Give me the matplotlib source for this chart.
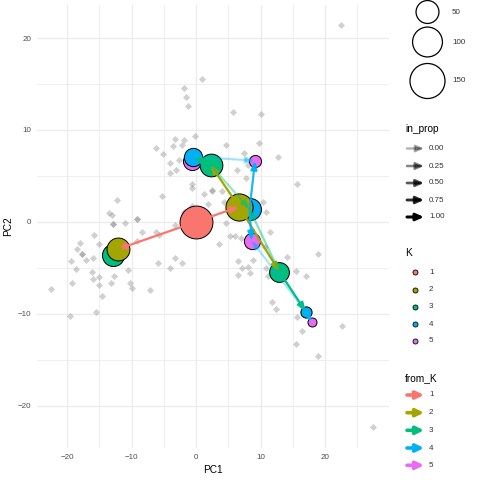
import matplotlib
matplotlib.use("Agg")
import matplotlib.pyplot as plt
from matplotlib.patches import FancyArrowPatch
import numpy as np

plt.rcParams['font.family'] = ['Liberation Sans', 'DejaVu Sans']

# ---------------- data ----------------
pts_x = [22.5, 1.0, -1.8, -1.5, -1.2, 5.7, 10.0, 15.6, 27.5, 15.5, 18.9,
         -6.2, -5.1, -3.6, -3.3, -1.8, -2.1, -0.1, 4.6, 7.4, 9.7, 12.7,
         -4.1, -3.1, -4.0, -2.7, 6.4, 8.1, 7.8, -5.2, -0.7, -0.7, 1.3, 2.4, 2.5,
         4.1, 4.3, 1.9, -0.7, -1.8, 10.4, 10.9, 4.7, 5.2, 6.1, 7.0, 3.5, 10.7,
         11.4, -3.3, -2.1, -5.9, -4.1, 6.5, 7.1, 8.1, 6.5, 8.3, 11.2,
         -12.2, -13.5, -13.0, -12.9, -12.9, -11.0, -9.1, -9.1, -8.3, -6.2, -5.7,
         -3.3, -15.8, -15.1, -18.0, -18.4, -17.7, -17.7, -17.0, -16.0, -19.4,
         -18.6, -16.1, -16.0, -15.0, -19.2, -15.1, -13.2, -12.7, -10.6, -10.3,
         -9.9, -7.2, -9.1, -14.6,
         -22.5, -19.6, -15.5,
         8.9, 10.9, 14.1, 15.5, 17.1, 18.9, 11.7, 12.4, 15.6, 16.5, 22.6]
pts_y = [21.4, 15.5, 14.6, 13.6, 12.6, 12.0, 11.7, 4.1, -22.3, -13.3, -14.6,
         8.0, 7.4, 8.3, 9.0, 8.9, 8.4, 9.3, 8.4, 7.5, 8.6, 7.1,
         5.3, 5.7, 6.4, 6.7, 5.7, 6.2, 4.8, 2.8, 4.1, 3.7, 3.0, 3.5, 3.4,
         3.4, 2.2, 2.0, 1.7, 1.1, 2.2, 1.1, -0.1, -1.5, -1.5, -1.8, -2.4, -2.7,
         -1.1, -3.9, -4.5, -4.5, -5.0, -4.3, -5.0, -4.9, -5.8, -5.6, -5.9,
         2.4, 1.0, 0.8, -0.2, -0.2, -0.1, 0.3, 0.3, -1.1, -1.1, -1.4,
         -0.3, -1.4, -2.4, -2.3, -3.0, -3.5, -3.5, -4.1, -3.9, -4.2,
         -5.1, -5.5, -6.2, -6.0, -6.7, -6.9, -6.7, -5.9, -5.2, -6.7,
         -7.2, -7.4, -2.1, -8.1,
         -7.3, -10.2, -9.8,
         -4.1, -5.0, -3.8, -5.3, -5.9, -3.5, -8.7, -9.5, -10.3, -11.9, -11.3]

# cluster nodes (listed in drawing order)
node_id = ["K5_2", "K4_2", "K3_2", "K4_3", "K2_2", "K1_1",
           "K5_1", "K4_1", "K3_1", "K2_1",
           "K4_4", "K5_5", "K3_3", "K5_3", "K5_4"]
node_K = [5, 4, 3, 4, 2, 1, 5, 4, 3, 2, 4, 5, 3, 5, 5]
node_x = [-0.7, -0.4, 2.25, 8.3, 6.66, 0.0,
          -12.83, -12.83, -12.83, -12.16,
          17.0, 17.96, 12.9, 9.15, 8.6]
node_y = [6.6, 7.1, 6.2, 1.38, 1.66, 0.0,
          -3.59, -3.59, -3.59, -2.97,
          -9.75, -10.84, -5.4, 6.66, -2.03]
node_n = [27, 28, 49, 44, 78, 128, 38, 40, 45, 50, 11, 10, 34, 12, 21]

# edges between resolutions
edge_from = ["K1_1", "K1_1", "K2_1", "K2_2", "K2_2",
             "K3_1", "K3_2", "K3_2", "K3_3", "K3_3",
             "K4_1", "K4_2", "K4_2", "K4_3", "K4_3", "K4_4", "K4_4"]
edge_to = ["K2_1", "K2_2", "K3_1", "K3_2", "K3_3",
           "K4_1", "K4_2", "K4_3", "K4_3", "K4_4",
           "K5_1", "K5_2", "K5_3", "K5_3", "K5_4", "K5_4", "K5_5"]
edge_in_prop = [1.0, 1.0, 1.0, 1.0, 1.0,
                1.0, 1.0, 0.15, 0.25, 1.0,
                1.0, 1.0, 0.08, 0.85, 0.9, 0.05, 1.0]

K_levels = [1, 2, 3, 4, 5]
K_colors = ["#F8766D", "#A3A500", "#00BF7D", "#00B0F6", "#E76BF3"]
size_breaks = [50, 100, 150]
in_prop_breaks = [0.00, 0.25, 0.50, 0.75, 1.00]

# ---------------- helpers ----------------
def diam_px(n):
    return 9 + 2.2 * np.sqrt(max(n - 10, 0))

def s_pts(n):
    return (diam_px(n) * 72 / 100) ** 2

def alpha_of(p):
    return 0.3 + 0.7 * p

colmap = dict(zip(K_levels, K_colors))

# ---------------- figure ----------------
W = H = 480
fig = plt.figure(figsize=(4.8, 4.8), dpi=100)
left, right, top, bottom = 36.7, 388.9, 5, 448
ax = fig.add_axes([left / W, 1 - bottom / H, (right - left) / W, (bottom - top) / H])
ax.set_xlim(-24.7, 29.9)
ax.set_ylim(-24.6, 23.6)
for sp in ax.spines.values():
    sp.set_visible(False)
ax.set_xticks([-20, -10, 0, 10, 20])
ax.set_yticks([-20, -10, 0, 10, 20])
ax.set_xticks([-15, -5, 5, 15, 25], minor=True)
ax.set_yticks([-15, -5, 5, 15], minor=True)
ax.grid(True, which='major', color='#ebebeb', lw=0.9)
ax.grid(True, which='minor', color='#ebebeb', lw=0.55)
ax.set_axisbelow(True)
ax.tick_params(which='both', length=0)
ax.tick_params(which='major', labelsize=5.8, labelcolor='#4d4d4d', pad=4)
ax.set_xlabel("PC1", fontsize=7.3, labelpad=3)
ax.set_ylabel("PC2", fontsize=7.3, labelpad=3)

# background cells
ax.scatter(pts_x, pts_y, marker='D', s=13, color='#7f7f7f', alpha=0.36,
           linewidths=0, zorder=1)

# nodes
pos = {}
for i, nid in enumerate(node_id):
    pos[nid] = (node_x[i], node_y[i])
    ax.scatter([node_x[i]], [node_y[i]], s=s_pts(node_n[i]),
               color=colmap[node_K[i]], edgecolors='black', linewidths=0.7,
               zorder=3 + i * 0.01)

# arrows
kind = dict(zip(node_id, node_K))
for f, t, p in zip(edge_from, edge_to, edge_in_prop):
    a = FancyArrowPatch(pos[f], pos[t],
                        arrowstyle='-|>,head_length=0.45,head_width=0.17',
                        mutation_scale=11, shrinkA=0, shrinkB=0,
                        color=colmap[kind[f]], alpha=alpha_of(p), lw=1.6,
                        zorder=5)
    ax.add_patch(a)

# ---------------- legends ----------------
lax = fig.add_axes([0, 0, 1, 1])
lax.set_xlim(0, W)
lax.set_ylim(H, 0)
lax.axis('off')
lax.patch.set_alpha(0)

# size legend
for v, yy in zip(size_breaks, [12, 42, 81]):
    lax.scatter([427.5], [yy], s=s_pts(v), facecolor='none',
                edgecolors='black', linewidths=0.9)
    lax.text(452, yy, f"{v}", fontsize=5.8, va='center', ha='left', color='#333333')

# in_prop legend
lax.text(405, 129, "in_prop", fontsize=7.3, va='center', ha='left')
for v, yy in zip(in_prop_breaks, [148.5, 166, 183, 200, 217]):
    lax.add_patch(FancyArrowPatch((407, yy), (424, yy),
                  arrowstyle='-|>,head_length=0.45,head_width=0.2',
                  mutation_scale=10, shrinkA=0, shrinkB=0,
                  color='black', alpha=alpha_of(v), lw=1.7 + 0.5 * v))
    lax.text(429, yy, f"{v:.2f}", fontsize=5.8, va='center', ha='left', color='#333333')

# K legend
lax.text(405, 253, "K", fontsize=7.3, va='center', ha='left')
for k, yy in zip(K_levels, [272, 289.5, 306.7, 324, 341]):
    lax.scatter([415], [yy], s=13, color=colmap[k], edgecolors='black', linewidths=0.6)
    lax.text(429, yy, f"{k}", fontsize=5.8, va='center', ha='left', color='#333333')

# from_K legend
lax.text(405, 378, "from_K", fontsize=7.3, va='center', ha='left')
for k, yy in zip(K_levels, [395, 412.7, 430.3, 448, 465.3]):
    lax.add_patch(FancyArrowPatch((407, yy), (424, yy),
                  arrowstyle='-|>,head_length=0.45,head_width=0.22',
                  mutation_scale=10, shrinkA=0, shrinkB=0,
                  color=colmap[k], lw=2.6))
    lax.text(429, yy, f"{k}", fontsize=5.8, va='center', ha='left', color='#333333')

fig.savefig("out.png", dpi=100)
